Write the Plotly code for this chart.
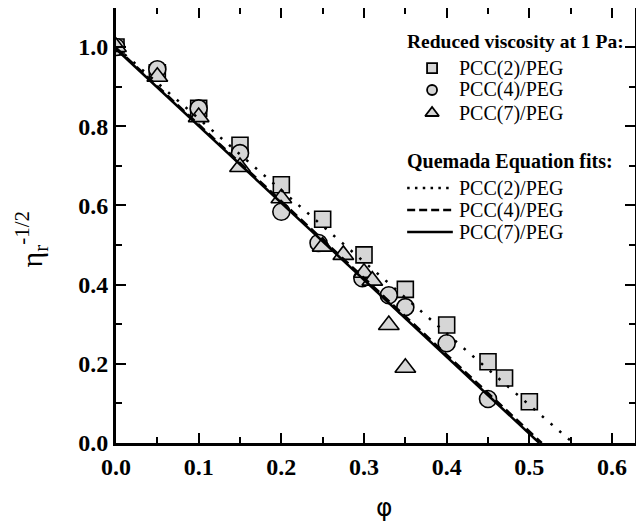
import plotly.graph_objects as go

# data
phi_pcc2 = [0.0, 0.05, 0.10, 0.15, 0.20, 0.25, 0.30, 0.35, 0.40, 0.45, 0.47, 0.50]
eta_pcc2 = [1.0, 0.935, 0.845, 0.752, 0.652, 0.565, 0.475, 0.388, 0.298, 0.205, 0.164, 0.104]

phi_pcc4 = [0.0, 0.05, 0.10, 0.15, 0.20, 0.245, 0.298, 0.33, 0.35, 0.40, 0.45]
eta_pcc4 = [1.0, 0.944, 0.845, 0.732, 0.584, 0.505, 0.416, 0.373, 0.343, 0.252, 0.111]

phi_pcc7 = [0.0, 0.05, 0.10, 0.15, 0.20, 0.25, 0.275, 0.30, 0.31, 0.33, 0.35]
eta_pcc7 = [1.0, 0.925, 0.823, 0.697, 0.618, 0.496, 0.475, 0.43, 0.41, 0.298, 0.19]

# Quemada fit lines (end points)
fit2_x = [0.0, 0.553]
fit2_y = [1.0, 0.0]
fit4_x = [0.0, 0.515]
fit4_y = [0.998, 0.0]
fit7_x = [0.0, 0.512]
fit7_y = [0.995, 0.0]

x_ticks = [0.0, 0.1, 0.2, 0.3, 0.4, 0.5, 0.6]
y_ticks = [0.0, 0.2, 0.4, 0.6, 0.8, 1.0]

series_names = ["PCC(2)/PEG", "PCC(4)/PEG", "PCC(7)/PEG"]
key_title_data = "Reduced viscosity at 1 Pa:"
key_title_fits = "Quemada Equation fits:"

serif = "Liberation Serif"
grey = "#d6d6d6"

fig = go.Figure()

# measured points
for xs, ys, sym, sz, name in [(phi_pcc2, eta_pcc2, "square", 16, series_names[0]),
                              (phi_pcc4, eta_pcc4, "circle", 17, series_names[1]),
                              (phi_pcc7, eta_pcc7, "triangle-up", 18, series_names[2])]:
    fig.add_trace(go.Scatter(
        x=xs, y=ys, mode="markers", name=name, showlegend=False,
        marker=dict(symbol=sym, size=sz, color=grey, line=dict(color="black", width=1.6)),
    ))

# fit lines
for xs, ys, dash, name in [(fit2_x, fit2_y, "2.5px,9px", series_names[0]),
                           (fit4_x, fit4_y, "9px,5px", series_names[1]),
                           (fit7_x, fit7_y, "solid", series_names[2])]:
    fig.add_trace(go.Scatter(
        x=xs, y=ys, mode="lines", name=name, showlegend=False,
        line=dict(color="black", width=2.5, dash=dash),
    ))

# key drawn by hand (paper-like overlay axes) so it can be packed as tight as the original
key_x_title = 0.557
key_x_sym = 0.609
key_x_text = 0.657
key_line_x = [0.561, 0.649]
key_rows_data = [0.862, 0.8115, 0.7586]
key_rows_fits = [0.586, 0.5356, 0.485]

for yk, sym, sz in zip(key_rows_data, ["square", "circle", "triangle-up"], [10, 10, 12]):
    fig.add_trace(go.Scatter(
        x=[key_x_sym], y=[yk], xaxis="x2", yaxis="y2", mode="markers", showlegend=False,
        hoverinfo="skip",
        marker=dict(symbol=sym, size=sz, color=grey, line=dict(color="black", width=1.8)),
    ))
for yk, dash in zip(key_rows_fits, ["2.5px,5.3px", "8px,4px", "solid"]):
    fig.add_trace(go.Scatter(
        x=key_line_x, y=[yk, yk], xaxis="x2", yaxis="y2", mode="lines", showlegend=False,
        hoverinfo="skip",
        line=dict(color="black", width=2.5, dash=dash),
    ))

annotations = [
    dict(text="<b>%s</b>" % key_title_data, x=key_x_title, y=0.922, xanchor="left"),
    dict(text="<b>%s</b>" % key_title_fits, x=key_x_title, y=0.646, xanchor="left"),
]
for yk, name in zip(key_rows_data + key_rows_fits, series_names + series_names):
    annotations.append(dict(text=name, x=key_x_text, y=yk, xanchor="left"))
for a in annotations:
    a.update(xref="paper", yref="paper", yanchor="middle", showarrow=False,
             font=dict(family=serif, size=20, color="black"))
annotations[0]["font"]["size"] = 19.5

# axis titles
annotations.append(dict(text="\u03b7<sub>r</sub><sup>-1/2</sup>", textangle=-90,
                        x=-0.162, y=0.47, xref="paper", yref="paper",
                        xanchor="center", yanchor="middle", showarrow=False,
                        font=dict(family=serif, size=30, color="black")))
annotations.append(dict(text="\u03c6", x=0.518, y=-0.148, xref="paper", yref="paper",
                        xanchor="center", yanchor="middle", showarrow=False,
                        font=dict(family="DejaVu Sans", size=25, color="black")))

axis_common = dict(
    showline=True, linecolor="black", linewidth=3, mirror="ticks",
    ticks="inside", ticklen=10, tickwidth=2, tickcolor="black",
    showgrid=False, zeroline=False, automargin=False,
    tickfont=dict(family=serif, size=24, color="black"),
)

# the page body adds an 8px margin, so keep the figure inside the 644x532 window
fig.update_layout(
    width=628, height=516,
    margin=dict(l=108, r=1, t=0, b=81),
    plot_bgcolor="white", paper_bgcolor="white",
    showlegend=False,
    xaxis=dict(
        range=[0, 0.6278], tickvals=x_ticks, ticktext=["<b>%.1f</b>" % v for v in x_ticks],
        minor=dict(dtick=0.05, ticks="inside", ticklen=6, tickwidth=2, tickcolor="black"),
        **axis_common,
    ),
    yaxis=dict(
        range=[0, 1.0985], tickvals=y_ticks, ticktext=["<b>%.1f</b>" % v for v in y_ticks],
        minor=dict(dtick=0.1, ticks="inside", ticklen=6, tickwidth=2, tickcolor="black"),
        **axis_common,
    ),
    xaxis2=dict(overlaying="x", range=[0, 1], visible=False, fixedrange=True),
    yaxis2=dict(overlaying="y", range=[0, 1], visible=False, fixedrange=True),
    annotations=annotations,
)

fig.write_html("out.html")
